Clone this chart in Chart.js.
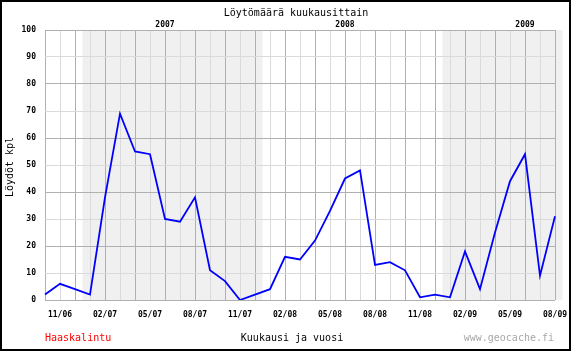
<!DOCTYPE html>
<html lang="fi">
<head>
<meta charset="UTF-8">
<title>Löytömäärä kuukausittain</title>
<script src="https://cdn.jsdelivr.net/npm/chart.js"></script>
<style>
  body { margin: 0; background: #fff; }
  canvas { display: block; }
</style>
</head>
<body>
<canvas id="chart" width="571" height="351"></canvas>
<script>
// kuukaudet 10/06 - 08/09
const months = [
  "10/06", "11/06", "12/06",
  "01/07", "02/07", "03/07", "04/07", "05/07", "06/07", "07/07", "08/07", "09/07", "10/07", "11/07", "12/07",
  "01/08", "02/08", "03/08", "04/08", "05/08", "06/08", "07/08", "08/08", "09/08", "10/08", "11/08", "12/08",
  "01/09", "02/09", "03/09", "04/09", "05/09", "06/09", "07/09", "08/09"
];
const finds = [
  2, 6, 4,
  2, 38, 69, 55, 54, 30, 29, 38, 11, 7, 0, 2,
  4, 16, 15, 22, 33, 45, 48, 13, 14, 11, 1, 2,
  1, 18, 4, 25, 44, 54, 9, 31
];
const years = ["2007", "2008", "2009"];
const shadedYears = ["2007", "2009"];
const yTicks = { min: 0, max: 100, step: 10 };

const DARK = "#b0b0b0";
const LIGHT = "#dadada";
const MONO = "'DejaVu Sans Mono', 'Liberation Mono', monospace";

const frame = {
  id: "frame",
  beforeDraw(chart) {
    const { ctx, chartArea: a, scales: { x } } = chart;
    const half = (x.getPixelForValue(1) - x.getPixelForValue(0)) / 2;
    ctx.save();
    ctx.fillStyle = "#fff";
    ctx.fillRect(0, 0, chart.width, chart.height);
    ctx.fillStyle = "#f0f0f0";
    shadedYears.forEach(y => {
      const yy = y.slice(2);
      const idx = months.map((m, i) => m.endsWith("/" + yy) ? i : -1).filter(i => i >= 0);
      const x0 = x.getPixelForValue(idx[0]) - half;
      const x1 = x.getPixelForValue(idx[idx.length - 1]) + half;
      ctx.fillRect(x0, a.top, x1 - x0, a.bottom - a.top);
    });
    ctx.restore();
  },
  afterDraw(chart) {
    const { ctx, scales: { x } } = chart;
    ctx.save();
    ctx.textBaseline = "middle";
    ctx.textAlign = "center";
    ctx.fillStyle = "#000";
    ctx.font = "10px " + MONO;
    ctx.fillText("Löytömäärä kuukausittain", 296, 13);
    ctx.fillText("Kuukausi ja vuosi", 292, 338);

    ctx.font = "bold 8px " + MONO;
    years.forEach(y => {
      const i = months.indexOf("06/" + y.slice(2));
      ctx.fillText(y, x.getPixelForValue(i), 25);
    });

    ctx.font = "10px " + MONO;
    ctx.textAlign = "left";
    ctx.fillStyle = "#ff0000";
    ctx.fillText("Haaskalintu", 45, 338);
    ctx.textAlign = "right";
    ctx.fillStyle = "#a8a8a8";
    ctx.fillText("www.geocache.fi", 554, 338);

    ctx.fillStyle = "#000";
    ctx.translate(10, 167);
    ctx.rotate(-Math.PI / 2);
    ctx.textAlign = "center";
    ctx.fillText("Löydöt kpl", 0, 0);
    ctx.restore();

    ctx.save();
    ctx.strokeStyle = "#000";
    ctx.lineWidth = 2;
    ctx.strokeRect(1, 1, chart.width - 2, chart.height - 2);
    ctx.restore();
  }
};

new Chart(document.getElementById("chart"), {
  type: "line",
  data: {
    labels: months,
    datasets: [{
      data: finds,
      borderColor: "#0000ff",
      borderWidth: 1.8,
      pointRadius: 0,
      tension: 0,
      fill: false
    }]
  },
  options: {
    responsive: false,
    animation: false,
    layout: { padding: { top: 30, right: 16, left: 0, bottom: 0 } },
    plugins: { legend: { display: false }, tooltip: { enabled: false }, title: { display: false } },
    scales: {
      x: {
        offset: false,
        afterFit: s => { s.height = 51; s.paddingLeft = 0; s.paddingRight = 0; },
        border: { display: false },
        grid: {
          offset: false,
          drawTicks: false,
          color: c => (c.index % 2 === 0 ? DARK : LIGHT)
        },
        ticks: {
          autoSkip: false,
          maxRotation: 0,
          padding: 10,
          color: "#000",
          font: { family: MONO, size: 8, weight: "bold" },
          callback: (v, i) => (i % 3 === 1 ? months[i] : "")
        }
      },
      y: {
        min: yTicks.min,
        max: yTicks.max,
        afterFit: s => { s.width = 45; },
        border: { display: false },
        grid: {
          drawTicks: false,
          color: c => (c.tick.value % 20 === 0 ? DARK : LIGHT)
        },
        ticks: {
          stepSize: yTicks.step,
          padding: 9,
          color: "#000",
          font: { family: MONO, size: 8, weight: "bold" }
        }
      }
    }
  },
  plugins: [frame]
});
</script>
</body>
</html>
